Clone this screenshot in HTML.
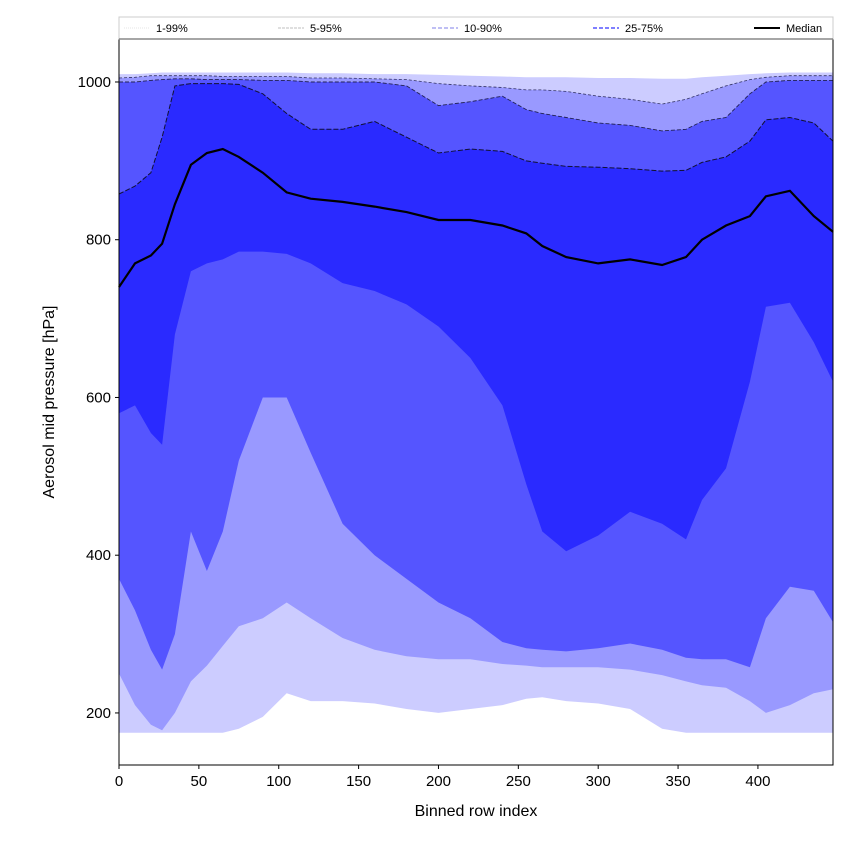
<!DOCTYPE html>
<html><head><meta charset="utf-8"><style>
html,body{margin:0;padding:0;background:#fff;}
svg text{font-family:"Liberation Sans",sans-serif;}
</style></head><body>
<svg id="chart" width="850" height="850" xmlns="http://www.w3.org/2000/svg"></svg>
<script>
const xs = [0,10,20,27,35,45,55,65,75,90,105,120,140,160,180,200,220,240,255,265,280,300,320,340,355,365,380,395,405,420,435,447];
const p99 = [1010,1010,1011,1012,1012,1012,1012,1012,1012,1012,1012,1011,1011,1010,1010,1009,1008,1007,1006,1006,1006,1005,1005,1004,1004,1006,1008,1010,1011,1012,1012,1012];
const p95 = [1005,1006,1008,1008,1008,1008,1008,1007,1007,1007,1007,1005,1005,1004,1003,998,995,993,990,990,988,982,978,972,978,985,995,1003,1006,1008,1008,1008];
const p90 = [1000,1000,1002,1003,1004,1004,1003,1003,1003,1002,1002,1000,1000,1000,995,970,975,982,965,960,955,948,945,938,940,950,955,985,1000,1002,1002,1002];
const p75 = [858,868,885,930,995,998,998,998,997,985,960,940,940,950,930,910,915,912,900,897,893,892,890,887,888,898,905,925,952,955,948,925];
const median = [740,770,780,795,845,895,910,915,905,885,860,852,848,842,835,825,825,818,808,792,778,770,775,768,778,800,818,830,855,862,830,810];
const p25 = [580,590,555,540,680,760,770,775,785,785,782,770,745,735,718,690,650,590,490,430,405,425,455,440,420,470,510,620,715,720,670,620];
const p10 = [370,330,280,255,300,430,380,430,520,600,600,530,440,400,370,340,320,290,282,280,278,282,288,280,270,268,268,258,320,360,355,315];
const p5 = [250,210,185,178,200,240,260,285,310,320,340,320,295,280,272,268,268,262,260,258,258,258,255,248,240,235,232,215,200,210,225,230];
const p1 = [175,175,175,175,175,175,175,175,180,195,225,215,215,212,205,200,205,210,218,220,215,212,205,180,175,175,175,175,175,175,175,175];
const xTicks = [0,50,100,150,200,250,300,350,400];
const yTicks = [200,400,600,800,1000];
const legendLabels = ["1-99%","5-95%","10-90%","25-75%","Median"];

const L=119,R=833,T=39,B=765,XMIN=0,XMAX=447,YMIN=134,YMAX=1054.5;
const sx=v=>L+(v-XMIN)/(XMAX-XMIN)*(R-L);
const sy=v=>B-(v-YMIN)/(YMAX-YMIN)*(B-T);
const NS="http://www.w3.org/2000/svg";
const svg=document.getElementById('chart');
function mk(tag,attrs,parent){const e=document.createElementNS(NS,tag);for(const k in attrs)e.setAttribute(k,attrs[k]);(parent||svg).appendChild(e);return e;}
function pts(arr){return xs.map((x,i)=>sx(x).toFixed(1)+','+sy(arr[i]).toFixed(1));}
function band(lo,hi,fill,name){
  const d='M'+pts(hi).join('L')+'L'+pts(lo).reverse().join('L')+'Z';
  const p=mk('path',{d:d,fill:fill,stroke:'none'});
  
  
}
function line(arr,stroke,w,dash,name){
  const p=mk('path',{d:'M'+pts(arr).join('L'),fill:'none',stroke:stroke,'stroke-width':w,'stroke-dasharray':dash||'none'});
  
  
}
band(p1,p99,'#ccccff','band-1-99');
band(p5,p95,'#9999ff','band-5-95');
band(p10,p90,'#5555ff','band-10-90');
band(p25,p75,'#2a2aff','band-25-75');
line(p95,'#333366',0.8,'3,2','line-p95');
line(p90,'#222255',0.9,'4,2','line-p90');
line(p75,'#111133',1,'5,2','line-p75');
line(median,'#000',2.2,'','median-line');

const frame=mk('rect',{x:L,y:T,width:R-L,height:B-T,fill:'none',stroke:'#000','stroke-width':1});


xTicks.forEach(v=>{
  mk('line',{x1:sx(v),x2:sx(v),y1:B,y2:B+4,stroke:'#000'});
  const t=mk('text',{x:sx(v),y:B+21,'text-anchor':'middle','font-size':15});
  t.textContent=v;
  
  
});
yTicks.forEach(v=>{
  mk('line',{x1:L-4,x2:L,y1:sy(v),y2:sy(v),stroke:'#000'});
  const t=mk('text',{x:L-8,y:sy(v)+5,'text-anchor':'end','font-size':15});
  t.textContent=v;
  
  
});
const xt=mk('text',{x:(L+R)/2,y:816,'text-anchor':'middle','font-size':16});
xt.textContent='Binned row index';


const yt=mk('text',{x:0,y:0,'text-anchor':'middle','font-size':16,transform:'translate(54,402) rotate(-90)'});
yt.textContent='Aerosol mid pressure [hPa]';



const lg=mk('g',{});


mk('rect',{x:119,y:17,width:714,height:22,fill:'#fff',stroke:'#ccc','stroke-width':1},lg);
mk('line',{x1:119,x2:833,y1:39,y2:39,stroke:'#888','stroke-width':1.5},lg);
const lx=[124,278,432,593,754];
const lstyle=[['#ddd','1,1',0.8],['#aaa','3,1',0.8],['#9999ee','4,2',1.2],['#5555ff','4,2',1.4],['#000','',2]];
legendLabels.forEach((s,i)=>{
  const g=mk('g',{},lg);
  
  
  mk('line',{x1:lx[i],x2:lx[i]+26,y1:28,y2:28,stroke:lstyle[i][0],'stroke-dasharray':lstyle[i][1]||'none','stroke-width':lstyle[i][2]},g);
  const t=mk('text',{x:lx[i]+32,y:32,'font-size':11},g);
  t.textContent=s;
});
</script>
</body></html>
